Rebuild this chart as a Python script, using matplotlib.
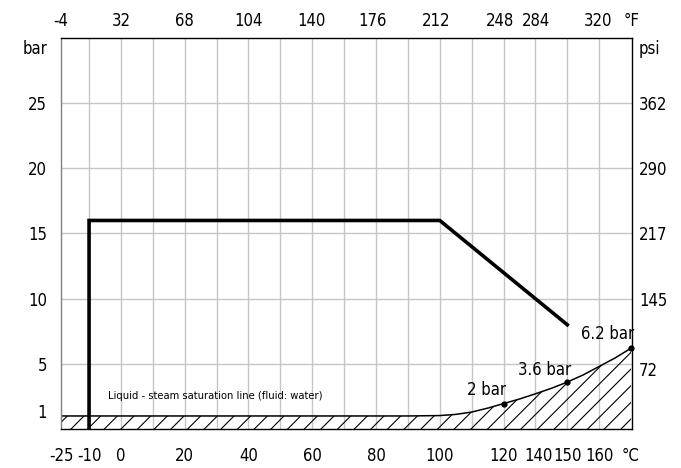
import matplotlib
matplotlib.use('Agg')
import matplotlib.pyplot as plt

plt.rcParams['font.family'] = ['DejaVu Sans']
plt.rcParams['font.stretch'] = 'condensed'
plt.rcParams['hatch.linewidth'] = 0.8

# x axis is drawn on a nominal scale: one grid cell = 10 units, -10 .. 150
grid_x = [-10, 0, 10, 20, 30, 40, 50, 60, 70, 80, 90, 100, 110, 120, 130, 140, 150]
grid_y = [5, 10, 15, 20, 25]

# bottom (°C) labels and where they sit on the nominal scale
c_pos = [-18.8, -10, 0, 20, 40, 60, 80, 100, 120, 131, 140, 150, 160]
c_lab = ['-25', '-10', '0', '20', '40', '60', '80', '100', '120', '140', '150', '160', '°C']
# top (°F) labels
f_pos = [-18.8, 0, 20, 40, 60, 79, 99, 119, 130.5, 150, 160.5]
f_lab = ['-4', '32', '68', '104', '140', '176', '212', '248', '284', '320', '°F']
# left (bar) and right (psi) labels
bar_pos = [1.4, 5, 10, 15, 20, 25, 29.3]
bar_lab = ['1', '5', '10', '15', '20', '25', 'bar']
psi_pos = [4.6, 10, 15, 20, 25, 29.3]
psi_lab = ['72', '145', '217', '290', '362', 'psi']

# pressure / temperature limit line
limit_x = [-10, -10, 100, 140]
limit_y = [0, 16, 16, 8]

# liquid - steam saturation curve
sat_x = [-18.8, 90, 100, 105, 110, 115, 120, 125, 130, 135, 140, 145, 150, 155, 160]
sat_y = [1.0, 1.0, 1.03, 1.12, 1.3, 1.6, 1.95, 2.3, 2.7, 3.12, 3.6, 4.15, 4.8, 5.45, 6.2]

pts_x = [120, 140, 160]
pts_y = [1.95, 3.6, 6.2]
pts_lab = ['2 bar', '3.6 bar', '6.2 bar']

fig = plt.figure(figsize=(6.81, 4.68), dpi=100)
ax = fig.add_axes([61 / 681, 1 - 429 / 468, 571 / 681, 391 / 468])
ax.set_xlim(-18.8, 160.3)
ax.set_ylim(0, 30)

for gx in grid_x:
    ax.axvline(gx, color='#c6c6c6', linewidth=1.0, zorder=0)
for gy in grid_y:
    ax.axhline(gy, color='#c6c6c6', linewidth=1.0, zorder=0)

ax.set_xticks(c_pos)
ax.set_xticklabels(c_lab)
ax.set_yticks(bar_pos)
ax.set_yticklabels(bar_lab)
ax.tick_params(which='both', length=0, labelsize=12)
ax.tick_params(axis='x', pad=13)
ax.tick_params(axis='y', pad=10)

ax.fill_between(sat_x, 0, sat_y, facecolor='none', edgecolor='black', hatch='//', linewidth=0)
ax.plot(sat_x, sat_y, color='black', linewidth=1.1)
ax.plot(pts_x, pts_y, 'o', color='black', markersize=3.5, clip_on=False)
ax.plot(limit_x, limit_y, color='black', linewidth=2.6, solid_joinstyle='miter')

offs = [(-12, 3), (-16, 2), (-17, 4)]
for x, y, t, o in zip(pts_x, pts_y, pts_lab, offs):
    ax.annotate(t, (x, y), xytext=o, textcoords='offset points', ha='center', va='bottom', fontsize=12)

ax.text(-4, 2.55, 'Liquid - steam saturation line (fluid: water)', fontsize=8, va='center')

for s in ['top', 'right', 'bottom']:
    ax.spines[s].set_color('black')
    ax.spines[s].set_linewidth(1.0)
ax.spines['left'].set_color('#808080')
ax.spines['left'].set_linewidth(1.0)

top = ax.twiny()
top.set_xlim(ax.get_xlim())
top.set_xticks(f_pos)
top.set_xticklabels(f_lab)
top.tick_params(length=0, labelsize=12, pad=6)
for s in top.spines.values():
    s.set_visible(False)

right = ax.twinx()
right.set_ylim(ax.get_ylim())
right.set_yticks(psi_pos)
right.set_yticklabels(psi_lab)
right.tick_params(length=0, labelsize=12, pad=5)
for s in right.spines.values():
    s.set_visible(False)

fig.savefig('out.png', dpi=100)
